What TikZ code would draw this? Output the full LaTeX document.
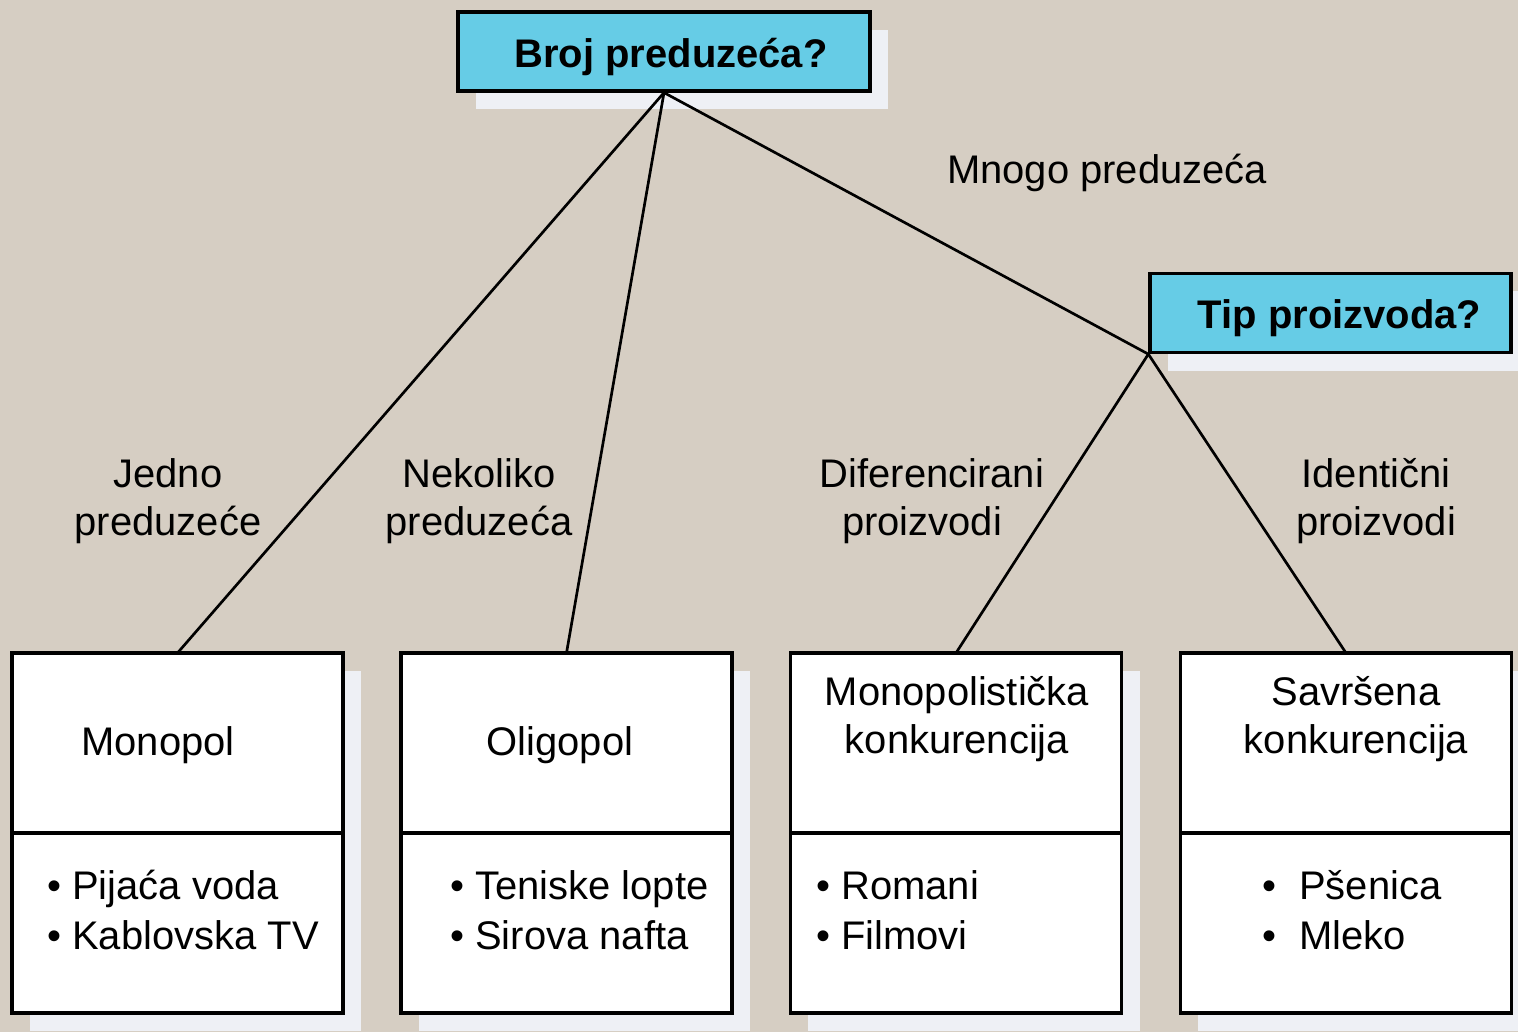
\documentclass[tikz,border=0pt]{standalone}
\usepackage{fontspec}
\setmainfont{Liberation Sans}
\usetikzlibrary{positioning}
\usetikzlibrary{shadows}

\definecolor{bgbeige}{RGB}{214,206,195}
\definecolor{qcyan}{RGB}{102,204,230}
\definecolor{shadowgray}{RGB}{238,240,245}

\tikzset{
	boxshadow/.style={drop shadow={shadow xshift=0.45cm, shadow yshift=-0.45cm, fill=shadowgray, opacity=1}},
	question/.style={draw, line width=2.3pt, fill=qcyan, minimum height=1.975cm, boxshadow,
		text height=1cm, text depth=0.21cm, font=\fontsize{28.4}{34}\selectfont\bfseries},
	marketpart/.style={draw, line width=2.3pt, fill=white, outer sep=0pt, inner sep=0pt,
		minimum width=8.275cm, minimum height=4.5cm, boxshadow},
	txt/.style={font=\fontsize{28.4}{34}\selectfont, align=center, inner sep=0pt},
	listtxt/.style={font=\fontsize{28.4}{35.5}\selectfont, align=left, inner sep=0pt, anchor=west},
	branch/.style={line width=1.9pt}
}

\newcommand{\bul}[2][0pt]{\textbullet\ \hspace{#1}#2}

\begin{document}
\begin{tikzpicture}[x=0.025cm, y=-0.025cm]
	\fill [bgbeige] (0,0) rectangle (1518,1032);
	\useasboundingbox (0,0) rectangle (1518,1032);

	\node [question, minimum width=10.3cm] (firms) at (664,51.5) {\hspace{0.35cm}Broj preduzeća?};
	\node [question, minimum width=9.025cm] (goods) at (1330.5,313) {\hspace{0.45cm}Tip proizvoda?};

	\node [marketpart] (mono) at (177.5,743) {};
	\node [marketpart, below=0pt of mono] (monoEx) {};
	\node [marketpart] (olig) at (566.5,743) {};
	\node [marketpart, below=0pt of olig] (oligEx) {};
	\node [marketpart] (mc) at (956,743) {};
	\node [marketpart, below=0pt of mc] (mcEx) {};
	\node [marketpart] (pc) at (1346,743) {};
	\node [marketpart, below=0pt of pc] (pcEx) {};

	\node [txt] (monoName) at (158,745) {Monopol};
	\node [txt] (oligName) at (560,745) {Oligopol};
	\node [txt] (mcName) at (957,719) {Monopolistička\\konkurencija};
	\node [txt] (pcName) at (1356,719) {Savršena\\konkurencija};

	\node [listtxt] (monoList) at (47,910) {\bul{Pijaća voda}\\\bul{Kablovska TV}};
	\node [listtxt] (oligList) at (450,910) {\bul{Teniske lopte}\\\bul{Sirova nafta}};
	\node [listtxt] (mcList) at (816,910) {\bul{Romani}\\\bul{Filmovi}};
	\node [listtxt] (pcList) at (1262,910) {\bul[0.3cm]{Pšenica}\\\bul[0.3cm]{Mleko}};

	\node [txt] (many) at (1107,173) {Mnogo preduzeća};
	\node [txt] (one) at (168,501) {Jedno\\preduzeće};
	\node [txt] (few) at (479,501) {Nekoliko\\preduzeća};
	\node [txt] (diff) at (932,501) {Diferencirani\\proizvodi\hspace*{0.5cm}};
	\node [txt] (same) at (1376,501) {Identični\\proizvodi};

	\draw [branch] (firms.south) -- (mono.north);
	\draw [branch] (firms.south) -- (olig.north);
	\draw [branch] (firms.south) -- (goods.south west);
	\draw [branch] (goods.south west) -- (mc.north);
	\draw [branch] (goods.south west) -- (pc.north);
\end{tikzpicture}
\end{document}
